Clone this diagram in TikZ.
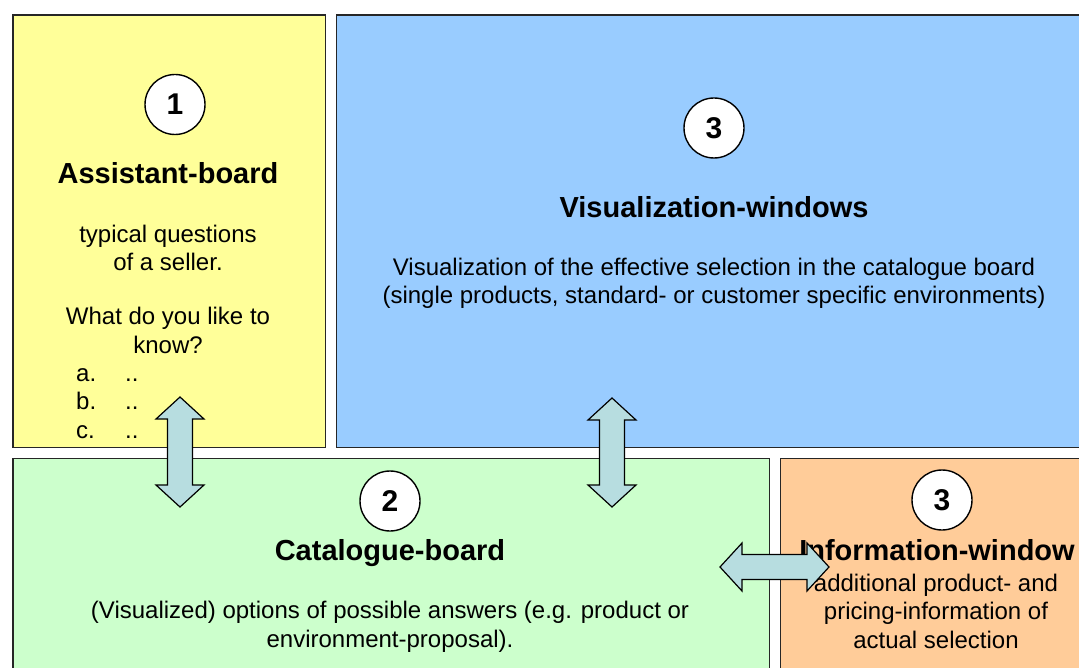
\documentclass[tikz,border=0pt]{standalone}
\usepackage{fontspec}
\setmainfont{Liberation Sans}
\usetikzlibrary{calc}

\definecolor{boardyellow}{RGB}{255,255,153}
\definecolor{boardblue}{RGB}{153,204,255}
\definecolor{boardgreen}{RGB}{204,255,204}
\definecolor{boardorange}{RGB}{255,204,153}
\definecolor{arrowfill}{RGB}{183,221,224}

\tikzset{
    board/.style={draw=black!85, line width=1.6pt, rectangle, anchor=north west, inner sep=0pt},
    num/.style={circle, draw=black, fill=white, line width=1.4pt, minimum size=60pt, inner sep=0pt,
        font=\fontsize{30}{36}\selectfont\bfseries},
    title/.style={anchor=base, inner sep=0pt, font=\fontsize{29}{34}\selectfont\bfseries},
    body/.style={anchor=base, inner sep=0pt, align=center, font=\fontsize{24}{28.5}\selectfont},
    blockarrow/.style={draw=black, line width=1.2pt, fill=arrowfill, line join=miter},
}

\begin{document}
\begin{tikzpicture}[x=1pt, y=-1pt]
    \clip (0,0) rectangle (1079,668);

    % パラメータの定義
    \pgfmathsetmacro{\hw}{24}
    \pgfmathsetmacro{\sw}{12.5}
    \pgfmathsetmacro{\hl}{22}

    % ボードの描画
    \node[board, fill=boardyellow, minimum width=312.5pt, minimum height=432.5pt] (assist) at (12,14) {};
    \node[board, fill=boardblue, minimum width=765pt, minimum height=432.5pt] (vis) at (335.5,14) {};
    \node[board, fill=boardgreen, minimum width=756.5pt, minimum height=240pt] (cat) at (12,457.5) {};
    \node[board, fill=boardorange, minimum width=320pt, minimum height=240pt] (info) at (779.5,457.5) {};

    % Assistant-board (基準は最終行のベースライン)
    \node[num] (n1) at (175,104.5) {1};
    \node[title] (assisttitle) at (168,184) {Assistant-board};
    \node[body] (assisttext) at (168,271) {typical questions\\of a seller.};
    \node[body] (assistask) at (168,353) {What do you like to\\know?};
    \node[body, anchor=base west] (itema) at (76,381) {\makebox[49pt][l]{a.}..};
    \node[body, anchor=base west] (itemb) at (76,409) {\makebox[49pt][l]{b.}..};
    \node[body, anchor=base west] (itemc) at (76,438) {\makebox[49pt][l]{c.}..};

    % Visualization-windows
    \node[num] (n3a) at (714,128) {3};
    \node[title] (vistitle) at (714,218) {Visualization-windows};
    \node[body] (vistext) at (714,304) {Visualization of the effective selection in the catalogue board\\(single products, standard- or customer specific environments)};

    % Catalogue-board
    \node[num] (n2) at (390,501) {2};
    \node[title] (cattitle) at (390,560) {Catalogue-board};
    \node[body] (cattext) at (390,647) {(Visualized) options of possible answers (e.g. product or\\environment-proposal).};

    % Information-window
    \node[num] (n3b) at (942,500) {3};
    \node[title] (infotitle) at (937,560) {Information-window};
    \node[body] (infotext) at (936,648) {additional product- and\\pricing-information of\\actual selection};

    % 矢印の端点
    \coordinate (a1t) at (180,397);
    \coordinate (a1b) at (180,507);
    \coordinate (a2t) at (612,398);
    \coordinate (a2b) at (612,507);
    \coordinate (a3l) at (720,567);
    \coordinate (a3r) at (829,567);

    % 矢印の描画
    \draw[blockarrow] (a1t) -- ++(\hw,\hl) -- ++(-\hw+\sw,0) -- ($(a1b)+(\sw,-\hl)$) -- ++(\hw-\sw,0)
        -- (a1b) -- ++(-\hw,-\hl) -- ++(\hw-\sw,0) -- ($(a1t)+(-\sw,\hl)$) -- ++(-\hw+\sw,0) -- cycle;
    \draw[blockarrow] (a2t) -- ++(\hw,\hl) -- ++(-\hw+\sw,0) -- ($(a2b)+(\sw,-\hl)$) -- ++(\hw-\sw,0)
        -- (a2b) -- ++(-\hw,-\hl) -- ++(\hw-\sw,0) -- ($(a2t)+(-\sw,\hl)$) -- ++(-\hw+\sw,0) -- cycle;
    \draw[blockarrow] (a3l) -- ++(\hl,-\hw) -- ++(0,\hw-\sw) -- ($(a3r)+(-\hl,-\sw)$) -- ++(0,-\hw+\sw)
        -- (a3r) -- ++(-\hl,\hw) -- ++(0,-\hw+\sw) -- ($(a3l)+(\hl,\sw)$) -- ++(0,\hw-\sw) -- cycle;

\end{tikzpicture}
\end{document}
